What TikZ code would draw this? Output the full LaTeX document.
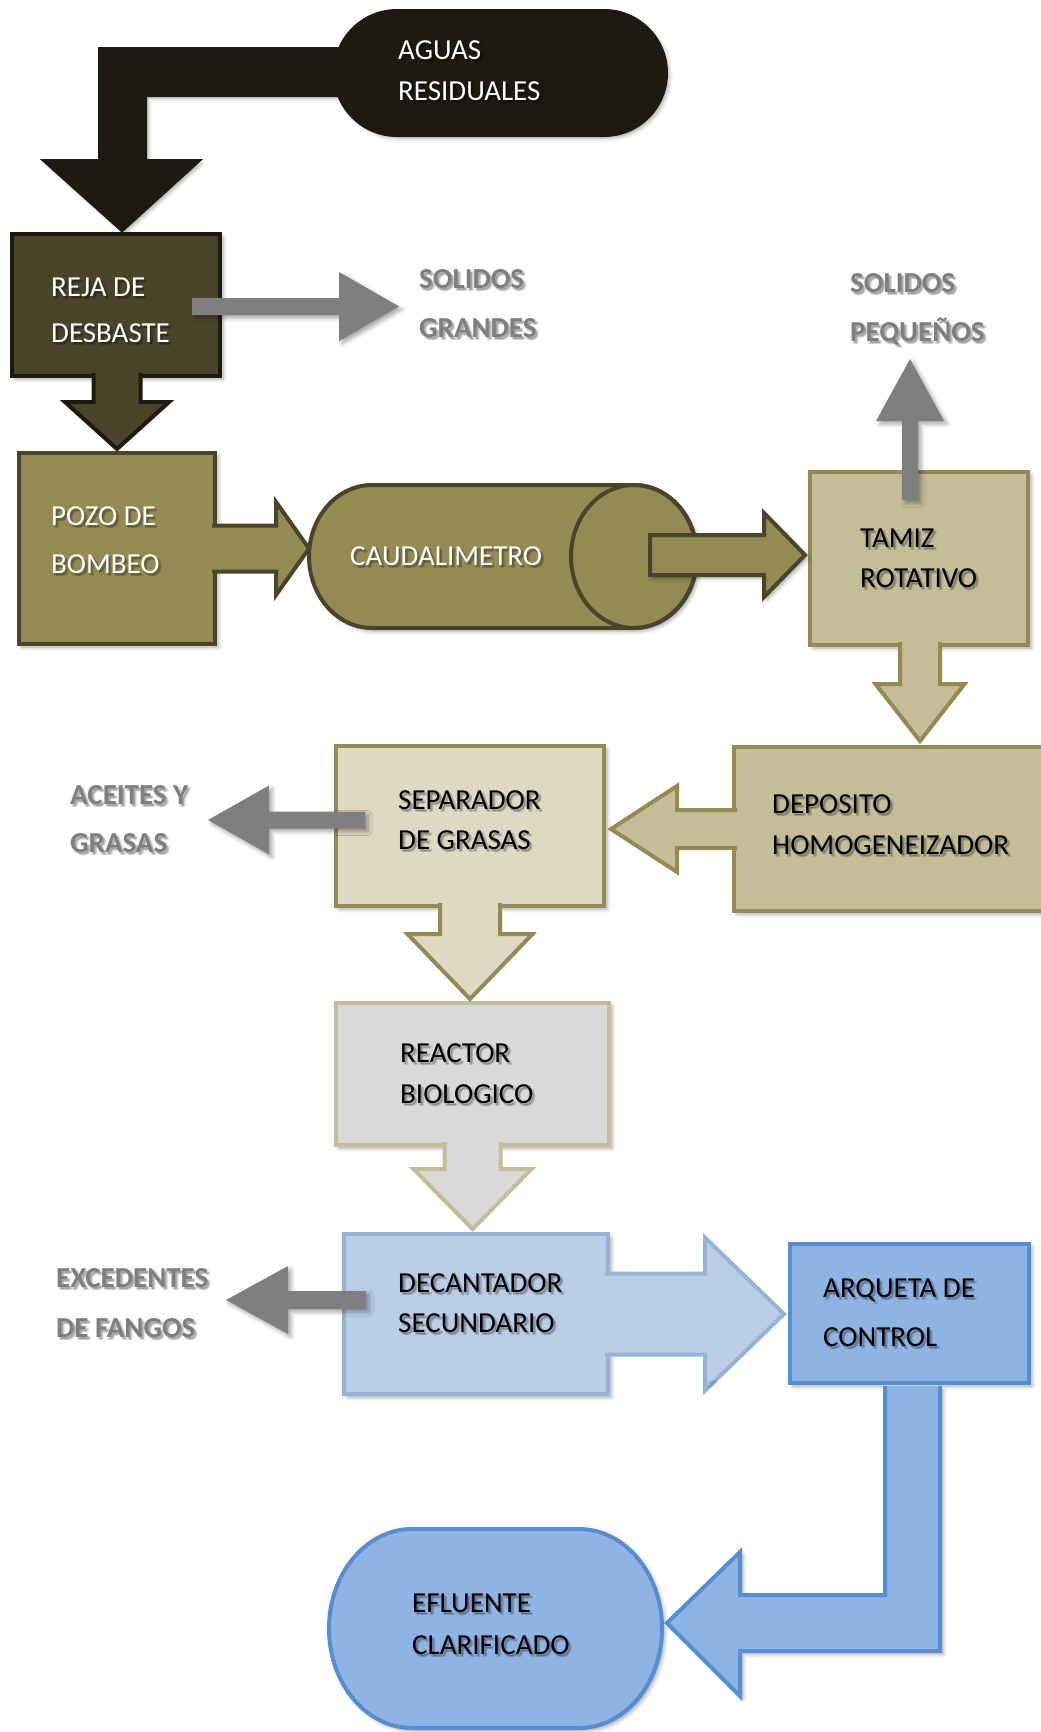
\documentclass[tikz,border=0pt]{standalone}
\usepackage{fontspec}
\setmainfont{Carlito}
\usetikzlibrary{calc,shapes.misc,shadows.blur}

% Tan and blue theme shades
\definecolor{tanD}{HTML}{1D1B10}
\definecolor{tanC}{HTML}{4A452A}
\definecolor{tanB}{HTML}{948A54}
\definecolor{tanA}{HTML}{C4BD97}
\definecolor{tanL}{HTML}{DDD9C3}
\definecolor{greyL}{HTML}{D9D9D9}
\definecolor{greyM}{HTML}{7F7F7F}
\definecolor{blueL}{HTML}{B9CDE5}
\definecolor{blueLb}{HTML}{95B3D7}
\definecolor{blueM}{HTML}{8EB4E3}
\definecolor{blueMb}{HTML}{558ED5}

% layers: paper, shadows of the flow arrows, everything else
\pgfdeclarelayer{paper}
\pgfdeclarelayer{shade}
\pgfsetlayers{paper,shade,main}

\newcommand\labelsize{\fontsize{29}{35}\selectfont}

\tikzset{
  soft/.style={blur shadow={shadow xshift=3pt, shadow yshift=-3pt, shadow blur radius=4pt, shadow opacity=35}},
  box/.style={rectangle, draw, line width=4pt, inner sep=0pt, outer sep=0pt, soft},
  flow/.style={line width=4pt},
  outflow/.style={fill=greyM, soft},
  wtext/.style={text=white, font=\labelsize, inner sep=0pt, anchor=base west},
  btext/.style={text=black, font=\labelsize, inner sep=0pt, anchor=base west},
  gtext/.style={text=greyM, font=\labelsize\bfseries, inner sep=0pt, anchor=base west},
  tshade/.style={text=black, text opacity=0.1},
}

% text line with a soft drop shadow: name, style, x, baseline y, text
\newcommand\flowtext[5]{%
  \foreach \sx/\sy in {1.5/2,3/2,1.5/3.5,3/3.5}{\node[#2,tshade] at (#3+\sx,#4+\sy) {#5};}
  \node[#2] (#1) at (#3,#4) {#5};
}

% block arrow: style, start, tip, shaft half width, head half width, head length, closing
\newcommand\blockarrow[7]{%
  \coordinate (bah) at ($(#3)!#6pt!(#2)$);
  \path[#1] ($(#2)!#4pt!90:(#3)$) -- ($(bah)!#4pt!90:(#3)$) -- ($(bah)!#5pt!90:(#3)$) -- (#3)
    -- ($(bah)!#5pt!-90:(#3)$) -- ($(bah)!#4pt!-90:(#3)$) -- ($(#2)!#4pt!-90:(#3)$) #7;
}
% flow arrow lying on its source box: its shadow goes below all boxes
\newcommand\flowarrow[6]{%
  \begin{pgfonlayer}{shade}\blockarrow{soft}{#2}{#3}{#4}{#5}{#6}{}\end{pgfonlayer}
  \blockarrow{flow,#1}{#2}{#3}{#4}{#5}{#6}{}
}

\begin{document}
\begin{tikzpicture}[x=1pt,y=-1pt]
\useasboundingbox (0,0) rectangle (1041,1732);
\begin{pgfonlayer}{paper}
  \fill[white] (0,0) rectangle (1041,1732);
\end{pgfonlayer}
% off-page samples so each layer's first shadow is not a visible one
\begin{pgfonlayer}{shade}\path[soft] (-60,-60) rectangle (-50,-50);\end{pgfonlayer}
\path[soft] (-60,-60) rectangle (-50,-50);

% process stages
\node[box, fill=tanC, draw=tanD, minimum width=208, minimum height=142] (reja) at (116,305) {};
\node[box, fill=tanB, draw=tanC, minimum width=196, minimum height=191] (pozo) at (117,548.5) {};

% flow meter drawn as a horizontal cylinder
\node[rectangle, minimum width=392, minimum height=147, inner sep=0pt, outer sep=0pt] (cyl) at (503,556.5) {};
\path[flow, soft, fill=tanB, draw=tanC] (372,485) -- (634,485)
  arc[start angle=-90, end angle=90, x radius=63, y radius=71.5] -- (372,628)
  arc[start angle=90, end angle=270, x radius=63, y radius=71.5] -- cycle;
\draw[line width=4pt, draw=tanC] (634,556.5) ellipse[x radius=63, y radius=71.5];

\node[box, fill=tanA, draw=tanB, minimum width=218, minimum height=173] (tamiz) at (919,558.5) {};
\node[box, fill=tanA, draw=tanB, minimum width=329, minimum height=164] (deposito) at (898.5,829) {};
\node[box, fill=tanL, draw=tanB, minimum width=268, minimum height=160] (separador) at (470,826) {};
\node[box, fill=greyL, draw=tanA, minimum width=273, minimum height=142] (reactor) at (472.5,1074) {};
\node[box, fill=blueL, draw=blueLb, minimum width=264, minimum height=160] (decantador) at (476,1314) {};
\node[box, fill=blueM, draw=blueMb, minimum width=239, minimum height=139] (arqueta) at (909.5,1313.5) {};
\node[rounded rectangle, fill=blueM, draw=blueMb, line width=4pt, minimum width=399.3, minimum height=199,
      inner sep=0pt, outer sep=0pt, xscale=0.834, transform shape, soft] (efluente) at (495.5,1628.5) {};

% inlet: bent arrow running under the inlet terminal
\coordinate (inTip) at ($(reja.north)+(6,-4)$);
\path[flow, soft, fill=tanD, draw=tanD] (420,49) -- (100,49) -- (100,161) -- (45,161) -- (inTip)
  -- (198,161) -- (145,161) -- (145,95) -- (420,95) -- cycle;
\node[rounded rectangle, fill=tanD, draw=tanD, line width=4pt, minimum width=331, minimum height=124,
      inner sep=0pt, outer sep=0pt, soft] (aguas) at (500.5,73) {};

% main flow arrows
\coordinate (a1) at ($(reja.south)+(1,-3)$);
\coordinate (b1) at ($(pozo.north)+(0,-4)$);
\flowarrow{fill=tanC, draw=tanD}{a1}{b1}{23.5}{52}{47}

\coordinate (a2) at ($(pozo.east)+(-3,0)$);
\coordinate (b2) at ($(cyl.west |- pozo.east)+(2,0)$);
\flowarrow{fill=tanB, draw=tanC}{a2}{b2}{23}{46.5}{33}

\coordinate (a3) at ($(cyl.east)+(-49,-1.5)$);
\coordinate (b3) at ($(tamiz.west |- a3)+(-5,0)$);
\blockarrow{flow, soft, fill=tanB, draw=tanC}{a3}{b3}{20}{42}{41}{-- cycle}

\coordinate (a4) at ($(tamiz.south)+(1,-3)$);
\coordinate (b4) at ($(a4 |- deposito.north)+(0,-6)$);
\flowarrow{fill=tanA, draw=tanB}{a4}{b4}{20}{44.5}{57}

\coordinate (a5) at ($(deposito.west)+(3,0)$);
\coordinate (b5) at ($(separador.east |- a5)+(7,0)$);
\flowarrow{fill=tanA, draw=tanB}{a5}{b5}{19}{43}{66}

\coordinate (a6) at ($(separador.south)+(0,-3)$);
\coordinate (b6) at ($(a6 |- reactor.north)+(0,-4)$);
\flowarrow{fill=tanL, draw=tanB}{a6}{b6}{30}{62.5}{65}

\coordinate (a7) at ($(reactor.south)+(0,-3)$);
\coordinate (b7) at ($(a7 |- decantador.north)+(0,-5)$);
\flowarrow{fill=greyL, draw=tanA}{a7}{b7}{28}{59}{60}

\coordinate (a8) at ($(decantador.east)+(-3,0)$);
\coordinate (b8) at ($(arqueta.west |- a8)+(-6,0)$);
\flowarrow{fill=blueL, draw=blueLb}{a8}{b8}{40.5}{76.5}{79}

% outlet: bent arrow down to the clarified effluent
\coordinate (outTip) at ($(efluente.east)+(5,-5.5)$);
\path[flow, soft, fill=blueM, draw=blueMb] (885,1386) -- (885,1595) -- (740,1595) -- (740,1552) -- (outTip)
  -- (740,1696) -- (740,1651) -- (940,1651) -- (940,1386);

% by-product arrows
\coordinate (g1) at ($(reja.east)+(-28,1.5)$);
\coordinate (g1e) at ($(g1)+(207,0)$);
\blockarrow{outflow}{g1}{g1e}{8.5}{34.5}{60}{-- cycle}

\coordinate (g2) at ($(tamiz.north)+(-9,28)$);
\coordinate (g2e) at ($(g2)+(0,-141)$);
\blockarrow{outflow}{g2}{g2e}{8}{34}{62}{-- cycle}

\coordinate (g3) at ($(separador.west)+(29,-6)$);
\coordinate (g3e) at ($(g3)+(-157,0)$);
\blockarrow{outflow}{g3}{g3e}{8.5}{34.5}{61}{-- cycle}

\coordinate (g4) at ($(decantador.west)+(22,-14)$);
\coordinate (g4e) at ($(g4)+(-140,0)$);
\blockarrow{outflow}{g4}{g4e}{9}{34}{62}{-- cycle}

% labels
\flowtext{tAg1}{wtext}{398}{59}{AGUAS}
\flowtext{tAg2}{wtext}{398}{100}{RESIDUALES}
\flowtext{tRe1}{wtext}{51}{296}{REJA DE}
\flowtext{tRe2}{wtext}{51}{342}{DESBASTE}
\flowtext{tPo1}{wtext}{51}{525}{POZO DE}
\flowtext{tPo2}{wtext}{51}{573}{BOMBEO}
\flowtext{tCa}{wtext}{350}{565}{CAUDALIMETRO}
\flowtext{tTa1}{btext}{860}{547}{TAMIZ}
\flowtext{tTa2}{btext}{860}{587}{ROTATIVO}
\flowtext{tDe1}{btext}{772}{813}{DEPOSITO}
\flowtext{tDe2}{btext}{772}{854}{HOMOGENEIZADOR}
\flowtext{tSe1}{btext}{398}{809}{SEPARADOR}
\flowtext{tSe2}{btext}{398}{849}{DE GRASAS}
\flowtext{tRc1}{btext}{400}{1062}{REACTOR}
\flowtext{tRc2}{btext}{400}{1103}{BIOLOGICO}
\flowtext{tDc1}{btext}{398}{1292}{DECANTADOR}
\flowtext{tDc2}{btext}{398}{1332}{SECUNDARIO}
\flowtext{tAr1}{btext}{823}{1297}{ARQUETA DE}
\flowtext{tAr2}{btext}{823}{1346}{CONTROL}
\flowtext{tEf1}{btext}{412}{1612}{EFLUENTE}
\flowtext{tEf2}{btext}{412}{1654}{CLARIFICADO}

\flowtext{tSg1}{gtext}{419}{288}{SOLIDOS}
\flowtext{tSg2}{gtext}{419}{337}{GRANDES}
\flowtext{tSp1}{gtext}{850}{292}{SOLIDOS}
\flowtext{tSp2}{gtext}{850}{341}{PEQUEÑOS}
\flowtext{tAc1}{gtext}{70}{804}{ACEITES Y}
\flowtext{tAc2}{gtext}{70}{852}{GRASAS}
\flowtext{tEx1}{gtext}{56}{1287}{EXCEDENTES}
\flowtext{tEx2}{gtext}{56}{1337}{DE FANGOS}
\end{tikzpicture}
\end{document}
